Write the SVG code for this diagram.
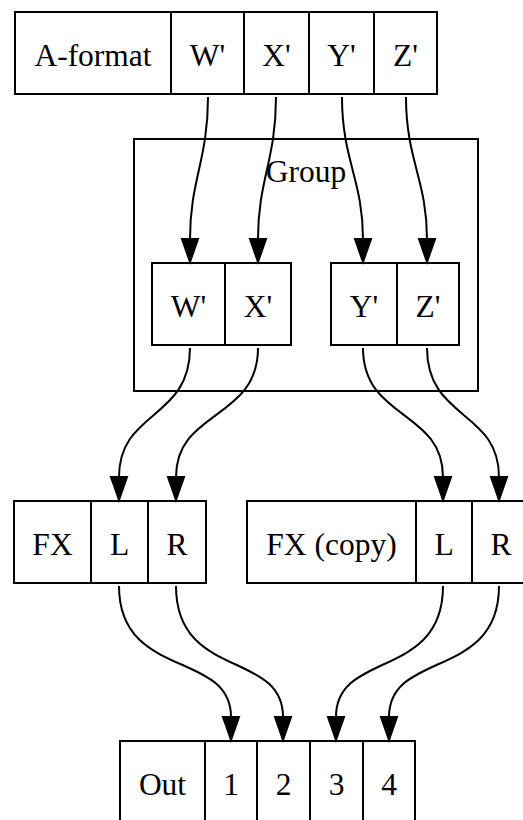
<svg xmlns="http://www.w3.org/2000/svg" width="523" height="820" viewBox="0 0 523 820">
<defs>
<style>
.box{fill:#fff;stroke:#000;stroke-width:2}
.div{stroke:#000;stroke-width:2}
.cl{fill:none;stroke:#000;stroke-width:2}
text{font-family:"Times New Roman","Liberation Serif",Tinos,serif;font-size:31.5px;text-anchor:middle;fill:#000}
.e{fill:none;stroke:#000;stroke-width:2}
.ah{fill:#000;stroke:#000;stroke-width:2;stroke-linejoin:miter}
</style>
</defs>
<rect width="523" height="820" fill="#fff"/>
<g id="cluster_group">
<rect class="cl" x="134" y="139" width="344" height="252"/>
<text x="306" y="182">Group</text>
</g>
<g id="aformat">
<rect class="box" x="15" y="12" width="422" height="82"/>
<line class="div" x1="171" y1="12" x2="171" y2="94"/>
<line class="div" x1="244" y1="12" x2="244" y2="94"/>
<line class="div" x1="309" y1="12" x2="309" y2="94"/>
<line class="div" x1="374" y1="12" x2="374" y2="94"/>
<text x="93" y="66">A-format</text>
<text x="207.5" y="66">W'</text>
<text x="276.5" y="66">X'</text>
<text x="341.5" y="66">Y'</text>
<text x="405.5" y="66">Z'</text>
</g>
<g id="wx">
<rect class="box" x="152" y="263" width="139" height="82"/>
<line class="div" x1="225" y1="263" x2="225" y2="345"/>
<text x="188.5" y="317">W'</text>
<text x="258" y="317">X'</text>
</g>
<g id="yz">
<rect class="box" x="331" y="263" width="128" height="82"/>
<line class="div" x1="397" y1="263" x2="397" y2="345"/>
<text x="364" y="317">Y'</text>
<text x="428" y="317">Z'</text>
</g>
<g id="fx">
<rect class="box" x="14" y="501" width="192" height="82"/>
<line class="div" x1="91" y1="501" x2="91" y2="583"/>
<line class="div" x1="148" y1="501" x2="148" y2="583"/>
<text x="52.5" y="555">FX</text>
<text x="119.5" y="555">L</text>
<text x="177" y="555">R</text>
</g>
<g id="fxcopy">
<rect class="box" x="247" y="501" width="283" height="82"/>
<line class="div" x1="416" y1="501" x2="416" y2="583"/>
<line class="div" x1="472" y1="501" x2="472" y2="583"/>
<text x="331.5" y="555">FX (copy)</text>
<text x="444" y="555">L</text>
<text x="501" y="555">R</text>
</g>
<g id="out">
<rect class="box" x="120" y="741" width="295" height="82"/>
<line class="div" x1="205" y1="741" x2="205" y2="823"/>
<line class="div" x1="257" y1="741" x2="257" y2="823"/>
<line class="div" x1="310" y1="741" x2="310" y2="823"/>
<line class="div" x1="363" y1="741" x2="363" y2="823"/>
<text x="162.5" y="795">Out</text>
<text x="231" y="795">1</text>
<text x="283.5" y="795">2</text>
<text x="336.5" y="795">3</text>
<text x="389" y="795">4</text>
</g>
<g id="connectors">
<path class="e" d="M208,97 C208,160 190,180 190,239"/>
<path class="e" d="M276,97 C276,160 258,180 258,239"/>
<path class="e" d="M342,97 C342,160 363,180 363,239"/>
<path class="e" d="M406,97 C406,160 427,180 427,239"/>
<path class="e" d="M190,348 C190,420 119,410 119,477"/>
<path class="e" d="M258,348 C258,420 176,410 176,477"/>
<path class="e" d="M363,348 C363,420 443,410 443,477"/>
<path class="e" d="M427,348 C427,420 499,410 499,477"/>
<path class="e" d="M119,586 C119,680 231,650 231,717"/>
<path class="e" d="M176,586 C176,680 283,650 283,717"/>
<path class="e" d="M443,586 C443,680 336,650 336,717"/>
<path class="e" d="M499,586 C499,680 389,650 389,717"/>
<polygon class="ah" points="182,239 198,239 190,262"/>
<polygon class="ah" points="250,239 266,239 258,262"/>
<polygon class="ah" points="355,239 371,239 363,262"/>
<polygon class="ah" points="419,239 435,239 427,262"/>
<polygon class="ah" points="111,477 127,477 119,500"/>
<polygon class="ah" points="168,477 184,477 176,500"/>
<polygon class="ah" points="435,477 451,477 443,500"/>
<polygon class="ah" points="491,477 507,477 499,500"/>
<polygon class="ah" points="223,717 239,717 231,740"/>
<polygon class="ah" points="275,717 291,717 283,740"/>
<polygon class="ah" points="328,717 344,717 336,740"/>
<polygon class="ah" points="381,717 397,717 389,740"/>
</g>
</svg>
